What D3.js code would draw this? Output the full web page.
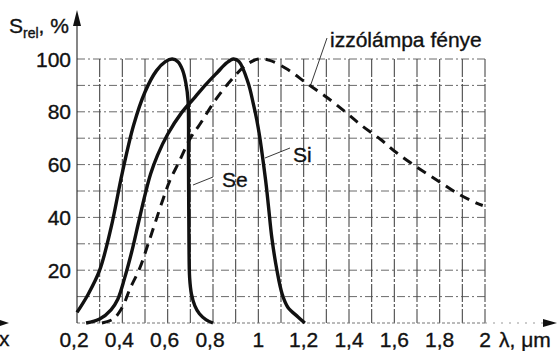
<!DOCTYPE html>
<html>
<head>
<meta charset="utf-8">
<script src="https://cdn.jsdelivr.net/npm/d3@7"></script>
<style>
  body { margin: 0; background: #fff; }
  text { font-family: "Liberation Sans", Arial, sans-serif; fill: #111; stroke: #111; stroke-width: 0.35; }
</style>
</head>
<body>
<script>
// relative spectral sensitivity, [wavelength in um, percent]
var seData = [[0.2,4],[0.25,11],[0.3,20],[0.35,36],[0.4,57],[0.45,75],[0.5,87.5],[0.55,95.5],[0.59,99],[0.62,100],[0.645,99],[0.665,96],[0.68,91],[0.69,84],[0.692,60],[0.694,30],[0.697,17],[0.705,11],[0.72,6.5],[0.74,3.5],[0.77,1.2],[0.8,0]];
var siData = [[0.24,0],[0.3,1.5],[0.35,5],[0.38,9],[0.41,17],[0.44,26.5],[0.47,37.5],[0.5,48.5],[0.525,56.5],[0.555,63.5],[0.6,71.5],[0.66,79.5],[0.72,85.5],[0.77,90.5],[0.82,95],[0.86,98.5],[0.89,100],[0.915,99],[0.955,91],[0.978,83],[0.993,77],[1.007,70],[1.02,62],[1.035,52],[1.045,44],[1.06,32],[1.082,20],[1.105,11],[1.13,6],[1.175,2.3],[1.205,0]];
var lampData = [[0.31,0],[0.36,1.5],[0.4,6],[0.434,13],[0.478,21],[0.514,30],[0.545,38],[0.58,47],[0.61,54],[0.65,61],[0.7,70],[0.74,75],[0.815,85],[0.89,93],[0.95,98],[1.0,100],[1.05,99.5],[1.13,96],[1.21,91],[1.3,85.6],[1.39,79.5],[1.46,74.5],[1.54,69.5],[1.61,64.5],[1.7,59],[1.79,54],[1.88,49],[1.96,45.5],[1.99,44.5]];

var xGrid = [0.2,0.3,0.4,0.5,0.6,0.7,0.8,0.9,1.0,1.1,1.2,1.3,1.4,1.5,1.6,1.7,1.8,1.9,2.0];
var xTickVals = [0.2,0.4,0.6,0.8,1.0,1.2,1.4,1.6,1.8,2.0];
var xTickLabels = ["0,2","0,4","0,6","0,8","1","1,2","1,4","1,6","1,8","2"];
var yGrid = [10,20,30,40,50,60,70,80,90,100];
var yTickVals = [20,40,60,80,100];

var w = 560;
var h = 351;
var fs = 21;

var svg = d3.select("body")
            .append("svg")
            .attr("width", w)
            .attr("height", h);

var x = d3.scaleLinear().domain([0.2, 2.0]).range([77, 485]);
var y = d3.scaleLinear().domain([0, 100]).range([323, 59]);

// grid
svg.append("g").selectAll("line")
   .data(yGrid)
   .enter()
   .append("line")
   .attr("x1", x(0.2))
   .attr("x2", x(2.0))
   .attr("y1", function(d) { return y(d); })
   .attr("y2", function(d) { return y(d); })
   .attr("stroke", "#6a6a6a")
   .attr("stroke-width", 1)
   .attr("stroke-dasharray", "8,3,2,3");

svg.append("g").selectAll("line")
   .data(xGrid.slice(1))
   .enter()
   .append("line")
   .attr("x1", function(d) { return x(d); })
   .attr("x2", function(d) { return x(d); })
   .attr("y1", y(100))
   .attr("y2", y(0))
   .attr("stroke", "#4a4a4a")
   .attr("stroke-width", 1.1)
   .attr("stroke-dasharray", "18,2,3,2");

// bottom line continuing to the axis arrow
svg.append("line")
   .attr("x1", x(0.2)).attr("x2", x(2.0))
   .attr("y1", y(0)).attr("y2", y(0))
   .attr("stroke", "#777").attr("stroke-dasharray", "3,2");
svg.append("line")
   .attr("x1", x(2.0)).attr("x2", 545)
   .attr("y1", y(0)).attr("y2", y(0))
   .attr("stroke", "#999").attr("stroke-dasharray", "2,6");
svg.append("path")
   .attr("d", "M543," + (y(0) - 4) + "L557," + y(0) + "L543," + (y(0) + 4) + "Z")
   .attr("fill", "#111");

// y axis with arrow
svg.append("line")
   .attr("x1", x(0.2)).attr("x2", x(0.2))
   .attr("y1", 22).attr("y2", y(0))
   .attr("stroke", "#222").attr("stroke-width", 1.1);
svg.append("path")
   .attr("d", "M" + (x(0.2) - 4) + ",26L" + x(0.2) + ",10L" + (x(0.2) + 4) + ",26Z")
   .attr("fill", "#111");

// leftover arrow and "x" of the neighbouring figure
svg.append("path")
   .attr("d", "M0," + (y(0) - 3) + "L9," + y(0) + "L0," + (y(0) + 3) + "Z")
   .attr("fill", "#111");
svg.append("text").attr("x", -1).attr("y", 346).attr("font-size", fs).text("x");

// tick labels
svg.append("g").selectAll("text")
   .data(yTickVals)
   .enter()
   .append("text")
   .attr("x", 71)
   .attr("y", function(d) { return y(d) + 7.5; })
   .attr("text-anchor", "end")
   .attr("font-size", fs)
   .text(function(d) { return d; });

svg.append("g").selectAll("text")
   .data(xTickVals)
   .enter()
   .append("text")
   .attr("x", function(d) { return x(d) - (d < 1 ? 3 : 0); })
   .attr("y", 347)
   .attr("text-anchor", "middle")
   .attr("font-size", fs)
   .text(function(d, i) { return xTickLabels[i]; });

// axis titles
var yt = svg.append("text").attr("x", 9).attr("y", 33).attr("font-size", fs);
yt.append("tspan").text("S");
yt.append("tspan").attr("font-size", 14).attr("dy", 5).text("rel");
yt.append("tspan").attr("dy", -5).text(", %");

svg.append("text").attr("x", 499).attr("y", 347).attr("font-size", fs).text("λ, μm");

// curves
var line = d3.line()
             .x(function(d) { return x(d[0]); })
             .y(function(d) { return y(d[1]); })
             .curve(d3.curveCatmullRom.alpha(0.5));

svg.append("path").datum(lampData)
   .attr("d", line)
   .attr("fill", "none")
   .attr("stroke", "#111")
   .attr("stroke-width", 3)
   .attr("stroke-dasharray", "10,7");

svg.append("path").datum(siData)
   .attr("d", line)
   .attr("fill", "none")
   .attr("stroke", "#111")
   .attr("stroke-width", 3.4);

svg.append("path").datum(seData)
   .attr("d", line)
   .attr("fill", "none")
   .attr("stroke", "#111")
   .attr("stroke-width", 3.4);

// labels with leader lines
function label(txt, tx, ty, x1, y1, x2, y2) {
  svg.append("line")
     .attr("x1", x1).attr("y1", y1).attr("x2", x2).attr("y2", y2)
     .attr("stroke", "#222").attr("stroke-width", 0.9);
  svg.append("text").attr("x", tx).attr("y", ty).attr("font-size", fs).text(txt);
}
label("izzólámpa fénye", 330, 47, 327, 38, 310, 87);
label("Si", 293, 162, 290, 148, 265, 158);
label("Se", 222, 187, 213, 177, 193, 185);
</script>
</body>
</html>
